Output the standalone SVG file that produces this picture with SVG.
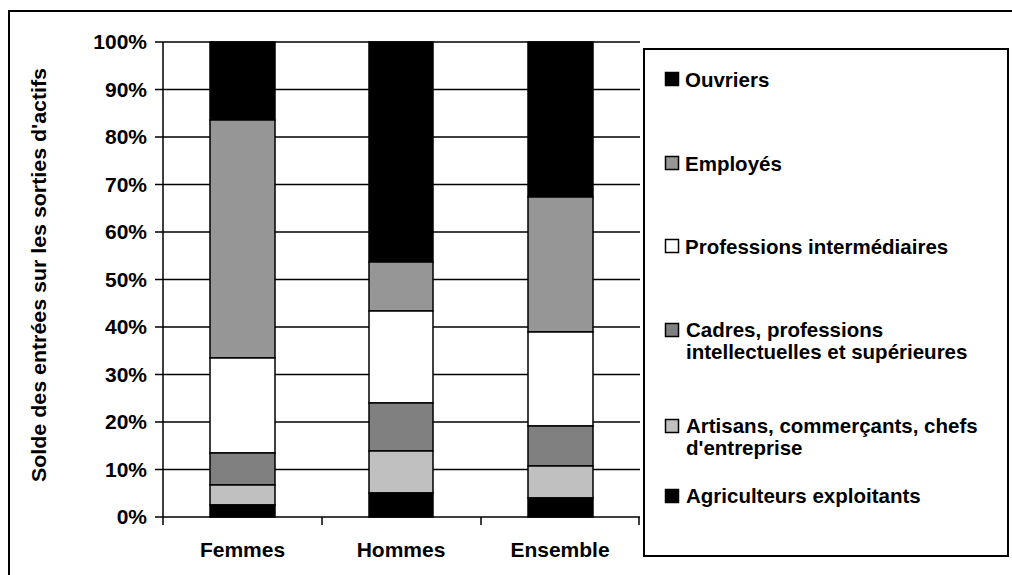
<svg xmlns="http://www.w3.org/2000/svg" width="1012" height="575" viewBox="0 0 1012 575">
<style>
text{font-family:"Liberation Sans",Arial,sans-serif;font-weight:bold;font-size:21px;fill:#000}
.lg{font-size:20.5px}
.grid{stroke:#000;stroke-width:1.5;fill:none}
.seg{stroke:#000;stroke-width:1.5}
.ouv{fill:#000}
.emp{fill:#969696}
.pro{fill:#fff}
.cad{fill:#808080}
.art{fill:#c0c0c0}
.agr{fill:#000}
.ylab{text-anchor:end}
.cat{text-anchor:middle}
.sw{stroke:#000;stroke-width:1.5}
</style>
<rect x="0" y="0" width="1012" height="575" fill="#fff"/>
<rect id="frame" x="9" y="11" width="1020" height="580" fill="#fff" stroke="#000" stroke-width="2"/>
<g id="gridlines">
<path class="grid" d="M155 42H640M155 89.5H640M155 137H640M155 184.5H640M155 232H640M155 279.5H640M155 327H640M155 374.5H640M155 422H640M155 469.5H640M155 517H640"/>
</g>
<g id="axes">
<path class="grid" d="M163 42V525M322 517V525M481 517V525M639 517V525"/>
</g>
<g id="y-labels">
<text class="ylab" x="147" y="49">100%</text>
<text class="ylab" x="147" y="96.5">90%</text>
<text class="ylab" x="147" y="144">80%</text>
<text class="ylab" x="147" y="191.5">70%</text>
<text class="ylab" x="147" y="239">60%</text>
<text class="ylab" x="147" y="286.5">50%</text>
<text class="ylab" x="147" y="334">40%</text>
<text class="ylab" x="147" y="381.5">30%</text>
<text class="ylab" x="147" y="429">20%</text>
<text class="ylab" x="147" y="476.5">10%</text>
<text class="ylab" x="147" y="524">0%</text>
</g>
<text id="y-title" transform="translate(46,275) rotate(-90)" text-anchor="middle" textLength="414" lengthAdjust="spacingAndGlyphs">Solde des entrées sur les sorties d'actifs</text>
<g id="bar-femmes">
<rect class="seg ouv" x="210" y="42" width="65" height="78"/>
<rect class="seg emp" x="210" y="120" width="65" height="238"/>
<rect class="seg pro" x="210" y="358" width="65" height="95"/>
<rect class="seg cad" x="210" y="453" width="65" height="32"/>
<rect class="seg art" x="210" y="485" width="65" height="20"/>
<rect class="seg agr" x="210" y="505" width="65" height="12"/>
</g>
<g id="bar-hommes">
<rect class="seg ouv" x="369" y="42" width="64" height="220"/>
<rect class="seg emp" x="369" y="262" width="64" height="49"/>
<rect class="seg pro" x="369" y="311" width="64" height="92"/>
<rect class="seg cad" x="369" y="403" width="64" height="48"/>
<rect class="seg art" x="369" y="451" width="64" height="42"/>
<rect class="seg agr" x="369" y="493" width="64" height="24"/>
</g>
<g id="bar-ensemble">
<rect class="seg ouv" x="528" y="42" width="65" height="155"/>
<rect class="seg emp" x="528" y="197" width="65" height="135"/>
<rect class="seg pro" x="528" y="332" width="65" height="94"/>
<rect class="seg cad" x="528" y="426" width="65" height="40"/>
<rect class="seg art" x="528" y="466" width="65" height="32"/>
<rect class="seg agr" x="528" y="498" width="65" height="19"/>
</g>
<g id="categories">
<text class="cat" x="242.5" y="557">Femmes</text>
<text class="cat" x="401" y="557">Hommes</text>
<text class="cat" x="560" y="557">Ensemble</text>
</g>
<g id="legend">
<rect x="644" y="49" width="364" height="507" fill="#fff" stroke="#000" stroke-width="2"/>
<g id="leg-ouvriers"><rect class="sw ouv" x="665.5" y="72.5" width="13" height="13"/><text class="lg" x="685" y="87">Ouvriers</text></g>
<g id="leg-employes"><rect class="sw emp" x="665.5" y="156.5" width="13" height="13"/><text class="lg" x="685" y="171">Employés</text></g>
<g id="leg-prof"><rect class="sw pro" x="665.5" y="239.5" width="13" height="13"/><text class="lg" x="685" y="254">Professions intermédiaires</text></g>
<g id="leg-cadres"><rect class="sw cad" x="665.5" y="323.5" width="13" height="13"/><text class="lg" x="686" y="337">Cadres, professions</text><text class="lg" x="686" y="359">intellectuelles et supérieures</text></g>
<g id="leg-artisans"><rect class="sw art" x="665.5" y="419.5" width="13" height="13"/><text class="lg" x="686" y="433">Artisans, commerçants, chefs</text><text class="lg" x="686" y="455">d'entreprise</text></g>
<g id="leg-agri"><rect class="sw agr" x="665.5" y="489.5" width="13" height="13"/><text class="lg" x="686" y="503">Agriculteurs exploitants</text></g>
</g>
</svg>
